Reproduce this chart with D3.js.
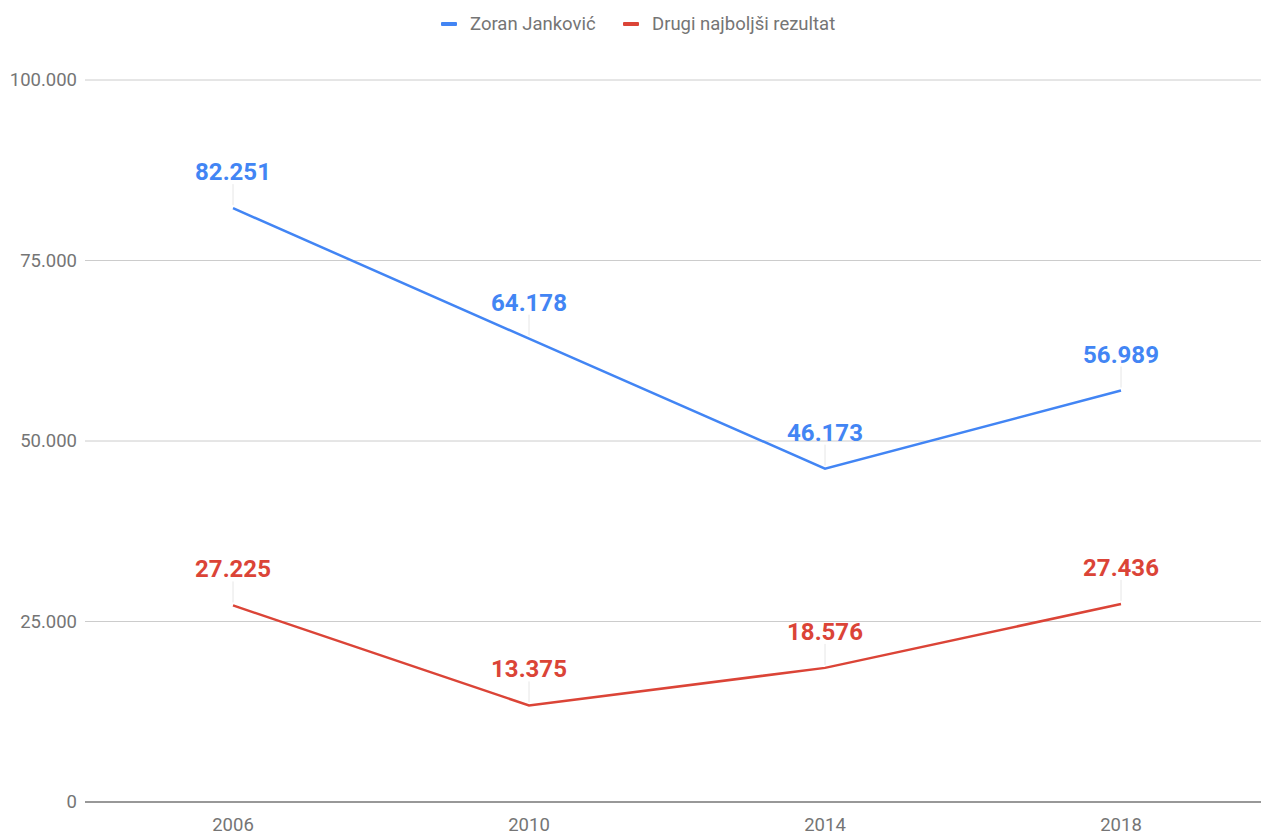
<!DOCTYPE html>
<html><head><meta charset="utf-8">
<script src="https://cdn.jsdelivr.net/npm/d3@7"></script>
<style>body{margin:0;background:#fff;font-family:Roboto,sans-serif}</style>
</head><body>
<svg id="c" width="1261" height="832"></svg>
<script>
const years = ["2006","2010","2014","2018"];
const seriesNames = ["Zoran Janković","Drugi najboljši rezultat"];
const jankovic = [82251, 64178, 46173, 56989];
const drugi = [27225, 13375, 18576, 27436];
const yTicks = [0, 25000, 50000, 75000, 100000];
const colors = ["#4285f4", "#db4437"];

const svg = d3.select("#c");
const x = d3.scaleBand().domain(years).range([85, 1269]);
const y = d3.scaleLinear().domain([0, 100000]).range([802, 80]);
const fmt = v => d3.format(",")(v).replace(/,/g, ".");
const cx = d => x(d) + x.bandwidth() / 2;

// gridlines
svg.append("g").selectAll("line").data(yTicks.filter(t => t > 0)).join("line")
  .attr("x1", 85).attr("x2", 1261).attr("y1", d => y(d)).attr("y2", d => y(d))
  .attr("stroke", "#cccccc").attr("stroke-width", 1);
svg.append("line").attr("x1", 85).attr("x2", 1261).attr("y1", y(0)).attr("y2", y(0))
  .attr("stroke", "#333").attr("stroke-width", 1.2);

// y labels
svg.append("g").selectAll("text").data(yTicks).join("text")
  .attr("x", 77).attr("y", d => y(d)).attr("dy", "0.35em").attr("text-anchor", "end")
  .attr("font-size", 18.5).attr("fill", "#757575").text(d => d === 0 ? "0" : fmt(d));
// x labels
svg.append("g").selectAll("text").data(years).join("text")
  .attr("x", d => cx(d)).attr("y", 831).attr("text-anchor", "middle")
  .attr("font-size", 18.5).attr("fill", "#757575").text(d => d);

const series = [jankovic, drugi];
series.forEach((vals, i) => {
  const pts = years.map((yr, j) => ({yr, v: vals[j]}));
  // leader lines
  svg.append("g").selectAll("line").data(pts).join("line")
    .attr("x1", d => cx(d.yr)).attr("x2", d => cx(d.yr))
    .attr("y1", d => y(d.v) - 24).attr("y2", d => y(d.v) - 3)
    .attr("stroke", "#e6e6e6").attr("stroke-width", 1);
  svg.append("path").datum(pts)
    .attr("d", d3.line().x(d => cx(d.yr)).y(d => y(d.v)))
    .attr("fill", "none").attr("stroke", colors[i]).attr("stroke-width", 2.5);
  svg.append("g").selectAll("text").data(pts).join("text")
    .attr("x", d => cx(d.yr)).attr("y", d => y(d.v) - 28)
    .attr("text-anchor", "middle").attr("font-size", 24).attr("font-weight", "bold")
    .attr("fill", colors[i]).text(d => fmt(d.v));
});

// legend
const lg = svg.append("g");
const legendX = [441, 623];
seriesNames.forEach((n, i) => {
  lg.append("rect").attr("x", legendX[i]).attr("y", 22).attr("width", 16).attr("height", 4)
    .attr("rx", 1).attr("fill", colors[i]);
  lg.append("text").attr("x", legendX[i] + 29).attr("y", 24).attr("dy", "0.35em")
    .attr("font-size", 18.5).attr("fill", "#757575").text(n);
});
</script>
</body></html>
